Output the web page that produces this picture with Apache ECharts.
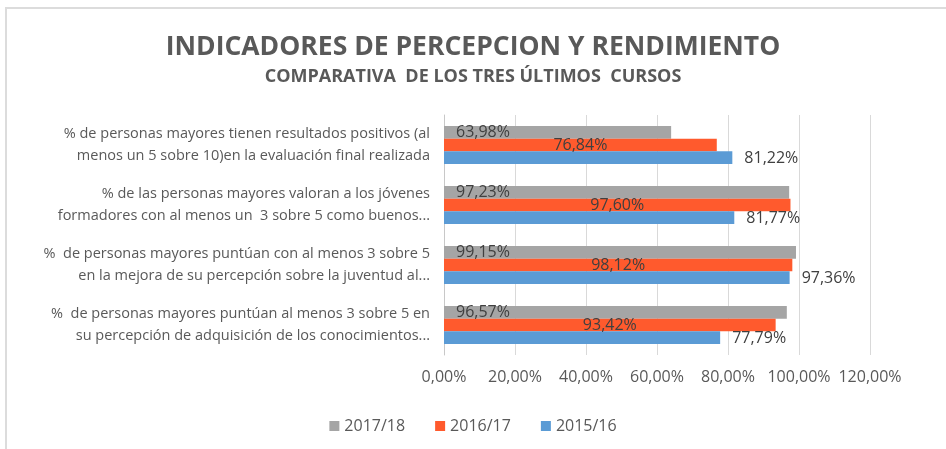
<!DOCTYPE html>
<html>
<head>
<meta charset="utf-8">
<script src="https://cdn.jsdelivr.net/npm/echarts@6/dist/echarts.min.js"></script>
<style>
  html, body { margin: 0; padding: 0; background: #fff; }
  #chart { width: 946px; height: 449px; }
  .frame {
    position: absolute; left: 5px; top: 7px; right: 0; bottom: 0;
    border-left: 2px solid #dcdcdc; border-top: 2px solid #dcdcdc;
    pointer-events: none;
  }
</style>
</head>
<body>
<div id="chart"></div>
<div class="frame"></div>
<script>
const categories = [
  '% de personas mayores tienen resultados positivos (al\nmenos un 5 sobre 10)en la evaluación final realizada',
  '% de las personas mayores valoran a los jóvenes\nformadores con al menos un  3 sobre 5 como buenos...',
  '%  de personas mayores puntúan con al menos 3 sobre 5\nen la mejora de su percepción sobre la juventud al...',
  '%  de personas mayores puntúan al menos 3 sobre 5 en\nsu percepción de adquisición de los conocimientos...'
]
const seriesNames = ['2017/18', '2016/17', '2015/16']
const values2017 = [63.98, 97.23, 99.15, 96.57]
const values2016 = [76.84, 97.60, 98.12, 93.42]
const values2015 = [81.22, 81.77, 97.36, 77.79]

const fontFamily = '"Open Sans", "Noto Sans", sans-serif'
const pct = v => v.toFixed(2).replace('.', ',') + '%'

const labelStyle = {
  show: true,
  color: '#404040',
  fontSize: 16,
  fontFamily,
  formatter: p => pct(p.value)
}

const chart = echarts.init(document.getElementById('chart'))
const option = {
  animation: false,
  title: [
    {
      text: 'INDICADORES DE PERCEPCION Y RENDIMIENTO',
      left: 'center',
      top: 29,
      textStyle: { fontFamily, fontSize: 26.5, fontWeight: 'bold', color: '#595959' }
    },
    {
      text: 'COMPARATIVA  DE LOS TRES ÚLTIMOS  CURSOS',
      left: 'center',
      top: 63,
      textStyle: { fontFamily, fontSize: 18, fontWeight: 'bold', color: '#595959' }
    }
  ],
  legend: {
    data: seriesNames,
    left: 'center',
    top: 413,
    icon: 'rect',
    itemWidth: 10,
    itemHeight: 10,
    itemGap: 30,
    textStyle: { fontFamily, fontSize: 16, color: '#595959' }
  },
  grid: {
    left: 444,
    right: 76,
    top: 115,
    bottom: 94
  },
  xAxis: {
    type: 'value',
    min: 0,
    max: 120,
    interval: 20,
    axisLine: { show: false },
    axisTick: { show: false },
    splitLine: { lineStyle: { color: '#d9d9d9' } },
    axisLabel: {
      formatter: v => pct(v),
      color: '#595959',
      fontSize: 16,
      fontFamily,
      margin: 14
    }
  },
  yAxis: {
    type: 'category',
    inverse: true,
    data: categories,
    axisLine: { lineStyle: { color: '#c8c8c8' } },
    axisTick: { show: false },
    axisLabel: {
      color: '#595959',
      fontSize: 14.5,
      fontFamily,
      lineHeight: 22,
      margin: 14,
      align: 'right'
    }
  },
  series: [
    {
      name: seriesNames[0],
      type: 'bar',
      data: values2017,
      itemStyle: { color: '#a5a5a5' },
      barGap: '0%',
      barCategoryGap: '37%',
      label: Object.assign({}, labelStyle, { position: 'insideLeft', distance: 12 })
    },
    {
      name: seriesNames[1],
      type: 'bar',
      data: values2016,
      itemStyle: { color: '#ff5a2d' },
      label: Object.assign({}, labelStyle, { position: 'inside' })
    },
    {
      name: seriesNames[2],
      type: 'bar',
      data: values2015,
      itemStyle: { color: '#5b9bd5' },
      label: Object.assign({}, labelStyle, { position: 'right', distance: 12, offset: [0, 1] })
    }
  ]
}
chart.setOption(option)
</script>
</body>
</html>
